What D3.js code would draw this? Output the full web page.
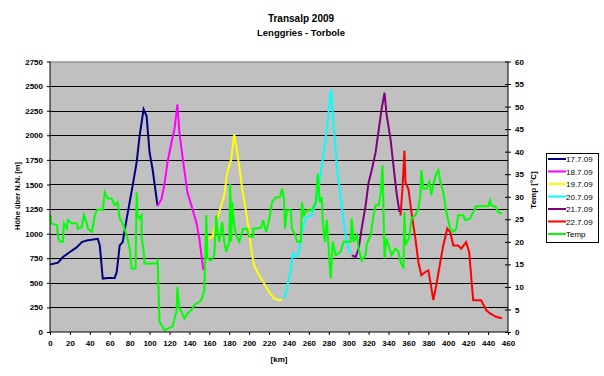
<!DOCTYPE html>
<html><head><meta charset="utf-8">
<script src="https://cdn.jsdelivr.net/npm/d3@7"></script>
<style>body{margin:0;background:#fff}svg{display:block}text{font-family:Arial,"Liberation Sans",sans-serif}</style>
</head><body><svg id="c" width="604" height="376"></svg>
<script>
const titleText = "Transalp 2009";
const subtitleText = "Lenggries - Torbole";
const seriesNames = ["17.7.09","18.7.09","19.7.09","20.7.09","21.7.09","22.7.09","Temp"];
const seriesColors = ["#000080","#FF00FF","#FFFF00","#00FFFF","#800080","#FF0000","#00FF00"];
const xTicks = d3.range(0, 461, 20);
const yTicks = d3.range(0, 2751, 250);
const tTicks = d3.range(0, 61, 5);

// [km, elevation m]
const day1 = [[0,685],[8,705],[13,762],[20,813],[27,863],[32,914],[37,931],[48,948],[50,880],[53,543],[58,550],[65,550],[67,610],[70,880],[73,914],[77,1150],[80,1319],[83,1488],[87,1723],[90,1994],[94,2264],[97,2196],[100,1825],[103,1657],[108,1285]];
const day2 = [[108,1280],[112,1353],[115,1505],[118,1723],[122,1926],[125,2061],[128,2315],[130,2027],[133,1791],[138,1420],[143,1252],[147,1117],[150,948],[154,628]];
const day3 = [[159,948],[163,965],[167,1117],[170,1218],[175,1387],[178,1622],[182,1758],[185,2011],[187,1893],[190,1690],[193,1454],[197,1218],[200,1015],[202,847],[205,678],[210,577],[215,493],[220,408],[225,341],[230,324],[233,324]];
const day4 = [[235,341],[238,442],[242,645],[244,797],[247,762],[250,813],[253,1015],[257,1167],[263,1184],[268,1353],[272,1622],[275,1825],[278,2061],[282,2466],[283,2365],[285,2095],[288,1690],[292,1353],[295,1117],[298,914],[302,797]];
const day5 = [[303,779],[307,762],[310,847],[313,1050],[317,1285],[320,1521],[323,1640],[327,1825],[330,2045],[333,2264],[336,2432],[338,2214],[342,1960],[345,1690],[348,1420],[351,1218]];
const day6 = [[352,1184],[354,1454],[356,1842],[357,1521],[360,1454],[363,1218],[367,948],[370,712],[373,577],[377,610],[380,628],[382,509],[385,324],[388,476],[392,712],[395,880],[399,1050],[402,1015],[405,880],[410,880],[413,847],[418,914],[421,813],[425,324],[433,324],[438,223],[442,189],[448,155],[454,139]];
// [km, temperature °C]
const temp = [[1,25.9],[1,24.1],[7,23.7],[8,21.1],[10,20.0],[13,20.0],[14,24.1],[17,22.9],[18,24.8],[22,24.1],[27,24.1],[28,22.9],[32,23.3],[34,25.9],[37,24.1],[38,22.9],[42,22.2],[43,23.3],[45,25.9],[47,27.0],[50,27.2],[53,27.0],[55,31.0],[58,29.6],[62,29.6],[65,28.1],[68,28.8],[70,25.2],[73,24.1],[77,21.5],[80,18.5],[82,14.1],[86,14.1],[87,31.0],[88,25.9],[90,25.2],[92,25.9],[92,21.1],[94,18.1],[95,15.2],[108,15.2],[108,16.3],[110,2.3],[115,0.4],[123,1.2],[127,4.5],[128,10.0],[130,5.2],[132,4.5],[135,3.0],[138,4.1],[142,4.9],[145,6.0],[150,6.7],[152,7.1],[155,9.3],[157,25.9],[158,16.3],[162,15.9],[165,17.0],[167,25.9],[168,22.9],[170,20.0],[173,24.4],[175,20.0],[177,17.8],[180,20.0],[181,32.9],[182,20.0],[183,28.8],[185,23.7],[187,21.5],[190,20.0],[194,22.9],[198,22.9],[200,21.1],[204,21.1],[204,22.9],[212,23.1],[214,24.8],[217,22.2],[220,24.8],[223,28.8],[227,29.9],[231,29.9],[233,31.8],[235,29.6],[236,22.9],[238,27.0],[242,27.0],[243,22.9],[247,21.1],[248,20.0],[252,20.0],[253,28.8],[255,25.9],[258,27.0],[263,27.0],[267,28.8],[269,35.1],[271,28.8],[273,29.9],[274,24.4],[276,20.0],[278,24.8],[279,21.5],[281,14.8],[282,11.9],[284,20.0],[287,17.0],[292,17.8],[295,20.0],[302,20.0],[303,25.2],[305,20.0],[308,21.5],[310,18.5],[313,15.9],[317,17.0],[318,19.3],[322,21.5],[325,25.9],[327,28.1],[330,28.1],[332,30.3],[334,36.9],[336,16.3],[338,20.7],[340,19.3],[343,17.0],[347,18.5],[350,17.8],[352,15.6],[355,14.1],[356,26.6],[357,19.3],[361,21.1],[363,25.2],[367,25.9],[370,27.4],[372,30.3],[373,35.9],[375,31.8],[378,31.8],[381,33.3],[383,30.3],[386,33.6],[388,35.1],[390,35.9],[392,33.3],[395,31.0],[398,26.6],[402,22.9],[405,22.2],[408,22.9],[410,25.9],[415,25.9],[417,24.8],[422,25.2],[425,26.6],[428,27.9],[440,27.9],[442,29.2],[443,28.1],[448,27.7],[450,26.6],[454,26.3]];

const elevSeries = [day1, day2, day3, day4, day5, day6];

const svg = d3.select("#c");
const L = 50, R = 508, T = 61.5, B = 332;
const x = d3.scaleLinear().domain([0,460]).range([L,R]);
const y = d3.scaleLinear().domain([0,2750]).range([B,T]);
const yt = d3.scaleLinear().domain([0,60]).range([B,T]);

svg.append("rect").attr("x",L).attr("y",T).attr("width",R-L).attr("height",B-T).attr("fill","#C0C0C0");
svg.append("g").selectAll("line").data(yTicks.filter(d=>d>0 && d<2750)).join("line")
  .attr("x1",L).attr("x2",R).attr("y1",d=>Math.round(y(d))+0.5).attr("y2",d=>Math.round(y(d))+0.5)
  .attr("stroke","#000").attr("stroke-width",1);
svg.append("line").attr("x1",L).attr("x2",R).attr("y1",T+0.5).attr("y2",T+0.5).attr("stroke","#808080");

const line = d3.line().x(d=>x(d[0])).y(d=>y(d[1]));
const tline = d3.line().x(d=>x(d[0])).y(d=>yt(d[1]));
const g = svg.append("g");
elevSeries.forEach((s,i)=>{
  g.append("path").attr("d",line(s)).attr("fill","none").attr("stroke",seriesColors[i]).attr("stroke-width",2);
});
g.append("path").attr("d",tline(temp)).attr("fill","none").attr("stroke",seriesColors[6]).attr("stroke-width",2);

const fmt = d3.format("d");
const ax = svg.append("g").attr("transform",`translate(0,${B})`).call(d3.axisBottom(x).tickValues(xTicks).tickFormat(fmt).tickSize(3).tickPadding(5));
const ay = svg.append("g").attr("transform",`translate(${L},0)`).call(d3.axisLeft(y).tickValues(yTicks).tickFormat(fmt).tickSize(3).tickPadding(4));
const ar = svg.append("g").attr("transform",`translate(${R},0)`).call(d3.axisRight(yt).tickValues(tTicks).tickFormat(fmt).tickSize(3).tickPadding(4));
[ax,ay,ar].forEach(a=>{
  a.select(".domain").attr("stroke","#000");
  a.selectAll(".tick line").attr("stroke","#000");
  a.selectAll("text").attr("font-size","8px").attr("font-weight","bold").attr("fill","#000").style("font-family","Arial, 'Liberation Sans', sans-serif");
});
ar.selectAll(".tick line").attr("x1",-3).attr("x2",3);
ay.select(".domain").attr("d",`M0,${B}V${T}`);
ar.select(".domain").attr("d",`M0,${B}V${T}`);
ax.select(".domain").attr("d",`M${L},0H${R}`);

svg.append("text").attr("x",301).attr("y",22).attr("text-anchor","middle").attr("font-size","10px").attr("font-weight","bold").text(titleText);
svg.append("text").attr("x",301).attr("y",36).attr("text-anchor","middle").attr("font-size","9.5px").attr("font-weight","bold").text(subtitleText);
svg.append("text").attr("x",279).attr("y",362).attr("text-anchor","middle").attr("font-size","8px").attr("font-weight","bold").text("[km]");
svg.append("text").attr("transform","translate(20,196) rotate(-90)").attr("text-anchor","middle").attr("font-size","7.5px").attr("font-weight","bold").text("Höhe über N.N. [m]");
svg.append("text").attr("transform","translate(536,190) rotate(-90)").attr("text-anchor","middle").attr("font-size","8px").attr("font-weight","bold").text("Temp [°C]");

const lg = svg.append("g");
lg.append("rect").attr("x",546.5).attr("y",153.5).attr("width",52).attr("height",89).attr("fill","#fff").attr("stroke","#000");
seriesNames.forEach((n,i)=>{
  const yy = 159 + i*12.5;
  lg.append("line").attr("x1",548).attr("x2",566).attr("y1",yy).attr("y2",yy).attr("stroke",seriesColors[i]).attr("stroke-width",2);
  lg.append("text").attr("x",566).attr("y",yy+3).attr("font-size","8px").text(n);
});
</script></body></html>
